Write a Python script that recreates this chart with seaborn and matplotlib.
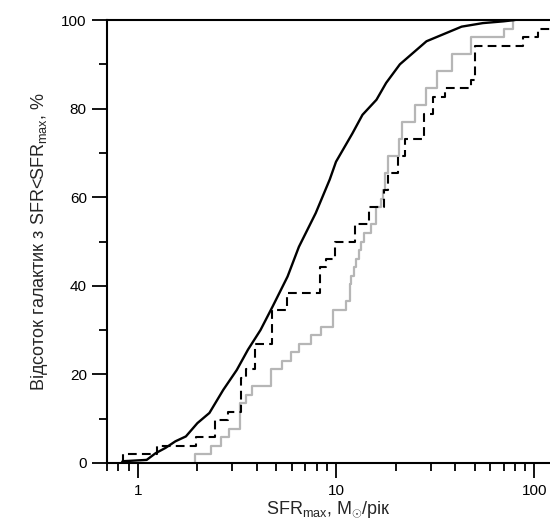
import numpy as np
import pandas as pd
import matplotlib
matplotlib.use("Agg")
import matplotlib.pyplot as plt
from matplotlib.ticker import MultipleLocator, FixedLocator, FixedFormatter, LogLocator, NullFormatter
import seaborn as sns


# Data

# whole sample: cumulative curve, SFRmax and percent
all_sfr = [0.83, 0.84, 1.11, 1.23, 1.38, 1.55, 1.75, 2.0, 2.3, 2.7, 3.16, 3.6, 4.16,
           4.8, 5.7, 6.5, 7.9, 9.3, 10.0, 12.1, 13.6, 16.0, 17.9, 21.0, 28.6, 43.0,
           55.0, 70.0, 80.0]
all_pct = [0, 0.4, 0.7, 2.2, 3.4, 4.9, 6.0, 9.0, 11.3, 16.5, 21.0, 25.6, 30.0,
           35.4, 42.1, 48.8, 56.4, 64.0, 68.0, 74.4, 78.6, 82.0, 85.8, 90.0, 95.2, 98.5,
           99.3, 99.7, 100]

# sample A (grey): SFRmax of each galaxy
sample_a = [1.95, 2.33, 2.63, 2.9, 3.27, 3.27, 3.27, 3.5, 3.75, 4.69, 4.69,
            5.37, 5.94, 6.53, 7.5, 8.4, 9.7, 9.7, 11.2, 11.7, 11.7, 11.9, 12.3,
            12.6, 13.0, 13.4, 13.9, 15.0, 16.0, 16.0, 16.8, 17.3, 17.6, 17.6,
            18.3, 18.3, 20.8, 20.8, 21.5, 21.5, 25.0, 25.0, 28.3, 28.3, 32.4, 32.4,
            38.5, 38.5, 47.8, 47.8, 70.0, 78.5]

# sample B (dashed): SFRmax of each galaxy
sample_b = [0.845, 1.25, 1.97, 2.44, 2.44, 2.86, 3.33, 3.33, 3.33, 3.33, 3.5,
            3.9, 3.9, 3.9, 4.75, 4.75, 4.75, 4.75, 5.65, 5.65, 8.3, 8.3, 8.3, 8.9,
            9.9, 9.9, 12.5, 12.5, 14.6, 14.6, 17.5, 17.5, 18.2, 18.2, 20.6, 20.6,
            22.2, 22.2, 27.8, 27.8, 27.8, 31.0, 31.0, 35.5, 48.0, 50.5, 50.5, 50.5,
            50.5, 88.0, 104.0, 140.0]

x_ticks = [1, 10, 100]
x_tick_labels = ["1", "10", "100"]


# Style

sns.set_style("ticks")
plt.rcParams["font.family"] = ["Liberation Sans", "DejaVu Sans"]
plt.rcParams["mathtext.fontset"] = "custom"
plt.rcParams["mathtext.rm"] = "Liberation Sans"
plt.rcParams["mathtext.it"] = "Liberation Sans:italic"


# Plot

fig = plt.figure(figsize=(5.5, 5.32), dpi=100)
ax = fig.add_axes([0.1945, 0.1297, 0.8055, 0.8327])

sns.ecdfplot(x=sample_a, stat="percent", log_scale=True, color="#b6b6b6",
             linewidth=1.6, ax=ax)
sns.ecdfplot(x=sample_b, stat="percent", log_scale=True, color="black",
             linewidth=1.5, linestyle=(0, (4.2, 2.5)), ax=ax)
sns.lineplot(x=all_sfr, y=all_pct, color="black", linewidth=1.7, ax=ax)

ax.set_xlim(0.7, 120)
ax.set_ylim(0, 100)

ax.xaxis.set_major_locator(FixedLocator(x_ticks))
ax.xaxis.set_major_formatter(FixedFormatter(x_tick_labels))
ax.xaxis.set_minor_locator(LogLocator(base=10, subs=np.arange(2, 10)))
ax.xaxis.set_minor_formatter(NullFormatter())

ax.yaxis.set_major_locator(MultipleLocator(20))
ax.yaxis.set_minor_locator(MultipleLocator(10))

ax.tick_params(which="major", direction="out", length=11, width=1.3, labelsize=11,
               color="black", labelcolor="black")
ax.tick_params(which="minor", direction="out", length=5.5, width=1.3, color="black")
ax.tick_params(axis="x", pad=4)

for side in ["left", "bottom", "top"]:
    ax.spines[side].set_linewidth(1.5)
    ax.spines[side].set_color("black")
ax.spines["right"].set_visible(False)

ax.set_xlabel(r"SFR$_{\rm max}$, M$_{\odot}$/рік", fontsize=13, labelpad=1)
ax.set_ylabel(r"Відсоток галактик з SFR<SFR$_{\rm max}$, %", fontsize=13, labelpad=8)

fig.savefig("out.png", dpi=100)
